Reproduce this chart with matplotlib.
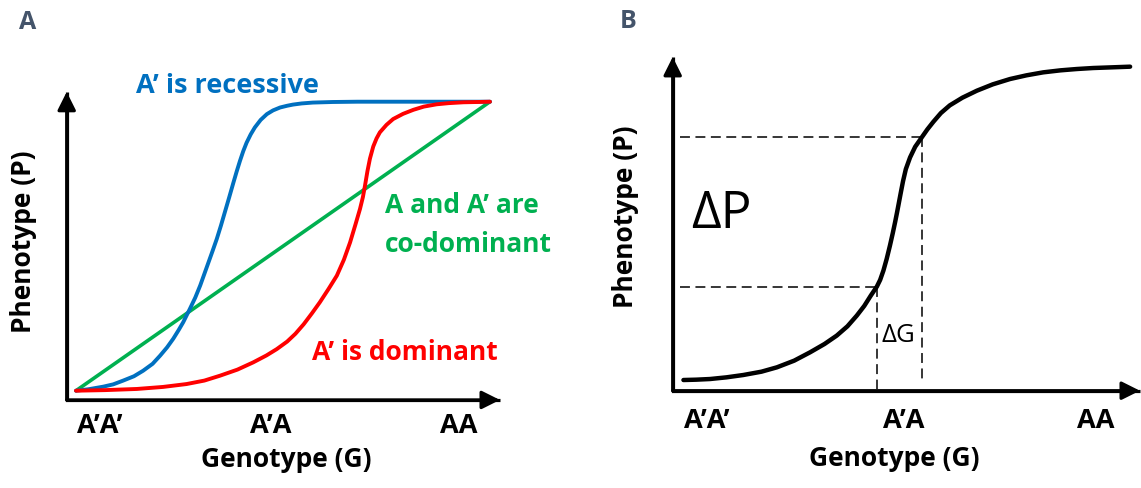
import matplotlib

matplotlib.use("Agg")
import matplotlib.pyplot as plt

plt.rcParams["font.family"] = ["Open Sans", "DejaVu Sans"]

# Genotype axis categories
genotype_labels = ["A’A’", "A’A", "AA"]

# Panel A: phenotype vs genotype for the three dominance cases (0 = A'A', 1 = AA)
recessive_g = [0.0, 0.03, 0.066, 0.09, 0.114, 0.14, 0.162, 0.185, 0.203, 0.22,
               0.235, 0.248, 0.259, 0.275, 0.288, 0.300, 0.310, 0.320, 0.330, 0.340,
               0.350, 0.360, 0.370, 0.380, 0.388, 0.396, 0.404, 0.412, 0.422, 0.432,
               0.446, 0.461, 0.476, 0.493, 0.510, 0.524, 0.545, 0.572, 0.620, 0.680,
               0.783, 1.0]
recessive_p = [0.0, 0.005, 0.014, 0.022, 0.035, 0.050, 0.069, 0.093, 0.121, 0.150,
               0.180, 0.210, 0.237, 0.283, 0.322, 0.364, 0.404, 0.444, 0.484, 0.525,
               0.571, 0.620, 0.669, 0.719, 0.758, 0.795, 0.829, 0.858, 0.887, 0.911,
               0.937, 0.957, 0.970, 0.980, 0.986, 0.990, 0.994, 0.997, 0.999, 1.0,
               1.0, 1.0]

dominant_g = [0.0, 0.07, 0.147, 0.21, 0.267, 0.31, 0.348, 0.39, 0.428, 0.46,
              0.485, 0.51, 0.530, 0.550, 0.570, 0.589, 0.610, 0.630, 0.647, 0.662,
              0.675, 0.686, 0.693, 0.698, 0.704, 0.710, 0.718, 0.726, 0.734, 0.750,
              0.766, 0.790, 0.815, 0.840, 0.871, 0.900, 0.936, 0.970, 1.0]
dominant_p = [0.0, 0.002, 0.006, 0.013, 0.023, 0.035, 0.052, 0.073, 0.098, 0.122,
              0.144, 0.170, 0.197, 0.230, 0.268, 0.306, 0.352, 0.398, 0.453, 0.513,
              0.575, 0.629, 0.670, 0.709, 0.760, 0.803, 0.845, 0.873, 0.894, 0.920,
              0.940, 0.958, 0.972, 0.983, 0.991, 0.995, 0.998, 0.999, 1.0]

codominant_g = [0.0, 1.0]
codominant_p = [0.0, 1.0]

# Panel B: a single genotype-phenotype map with a steep middle section
sigmoid_g = [0.023, 0.050, 0.080, 0.115, 0.151, 0.190, 0.223, 0.260, 0.294, 0.325,
             0.351, 0.374, 0.394, 0.410, 0.424, 0.437, 0.444, 0.451, 0.458, 0.465,
             0.471, 0.476, 0.480, 0.483, 0.488, 0.493, 0.499, 0.508, 0.519, 0.533,
             0.545, 0.558, 0.574, 0.593, 0.620, 0.651, 0.685, 0.722, 0.757, 0.793,
             0.830, 0.865, 0.900, 0.940, 0.979]
sigmoid_p = [0.032, 0.033, 0.035, 0.040, 0.047, 0.057, 0.070, 0.090, 0.115, 0.140,
             0.165, 0.193, 0.225, 0.254, 0.285, 0.312, 0.332, 0.360, 0.395, 0.435,
             0.472, 0.505, 0.533, 0.555, 0.592, 0.628, 0.664, 0.699, 0.731, 0.759,
             0.783, 0.806, 0.832, 0.855, 0.878, 0.899, 0.918, 0.934, 0.945, 0.954,
             0.960, 0.964, 0.967, 0.969, 0.971]

# two genotypes a small step apart and the phenotypes they give
delta_g = [0.437, 0.533]
delta_p = [0.312, 0.759]

BLUE = "#0070C0"
RED = "#FF0000"
GREEN = "#00B050"
PANEL_COLOR = "#44546A"


def draw_axes_arrows(ax, x0, y0, x_tip, y_tip, lw=2.3):
    # L-shaped frame with filled arrow heads on both ends
    ax.plot([x0, x0, x_tip], [y_tip, y0, y0], color="black", lw=lw,
            solid_joinstyle="miter", solid_capstyle="butt")
    head = dict(arrowstyle="-|>,head_length=1.1,head_width=0.55", color="black",
                lw=lw, shrinkA=0, shrinkB=0, mutation_scale=10)
    ax.annotate("", xy=(x0, y_tip), xytext=(x0, y0), arrowprops=head)
    ax.annotate("", xy=(x_tip, y0), xytext=(x0, y0), arrowprops=head)


fig = plt.figure(figsize=(11.41, 4.89), dpi=100)

# ---- Panel A ----
ax_a = fig.add_axes([0, 0, 560 / 1141, 1])
ax_a.set_xlim(-0.1836, 1.1691)
ax_a.set_ylim(-0.3367, 1.3554)
ax_a.axis("off")

draw_axes_arrows(ax_a, -0.0225, -0.032, 1.024, 1.034)
ax_a.plot(codominant_g, codominant_p, color=GREEN, lw=2.6, solid_capstyle="round")
ax_a.plot(recessive_g, recessive_p, color=BLUE, lw=2.8, solid_capstyle="round",
          solid_joinstyle="round")
ax_a.plot(dominant_g, dominant_p, color=RED, lw=2.8, solid_capstyle="round",
          solid_joinstyle="round")

ax_a.text(0.365, 1.058, "A’ is recessive", color=BLUE, fontsize=19.5,
          fontweight="bold", ha="center", va="center")
ax_a.text(0.746, 0.646, "A and A’ are", color=GREEN, fontsize=19,
          fontweight="bold", ha="left", va="center")
ax_a.text(0.746, 0.511, "co-dominant", color=GREEN, fontsize=19,
          fontweight="bold", ha="left", va="center")
ax_a.text(0.570, 0.134, "A’ is dominant", color=RED, fontsize=19,
          fontweight="bold", ha="left", va="center")

for x, label in zip([0.058, 0.470, 0.924], genotype_labels):
    ax_a.text(x, -0.120, label, fontsize=19.5, fontweight="bold",
              ha="center", va="center")
ax_a.text(0.508, -0.236, "Genotype (G)", fontsize=19, fontweight="bold",
          ha="center", va="center")
ax_a.text(-0.126, 0.520, "Phenotype (P)", fontsize=19, fontweight="bold",
          ha="center", va="center", rotation=90)
ax_a.text(-0.118, 1.279, "A", color=PANEL_COLOR, fontsize=18,
          fontweight="bold", ha="center", va="center")

# ---- Panel B ----
ax_b = fig.add_axes([560 / 1141, 0, 581 / 1141, 1])
ax_b.set_xlim(-0.2412, 1.0023)
ax_b.set_ylim(-0.2916, 1.1738)
ax_b.axis("off")

draw_axes_arrows(ax_b, 0.0, 0.0, 1.0, 1.0)

dash = dict(color="black", lw=1.1, linestyle=(0, (6.5, 3.6)))
for g, p in zip(delta_g, delta_p):
    ax_b.plot([0.016, g], [p, p], **dash)
ax_b.plot([delta_g[0], delta_g[0]], [delta_p[0], 0.005], **dash)
ax_b.plot([delta_g[1], delta_g[1]], [delta_p[1], 0.026], **dash)

ax_b.plot(sigmoid_g, sigmoid_p, color="black", lw=3.2, solid_capstyle="round",
          solid_joinstyle="round")

ax_b.text(0.105, 0.530, "ΔP", fontsize=37, ha="center", va="center")
ax_b.text(0.482, 0.167, "ΔG", fontsize=18.5, ha="center", va="center")

for x, label in zip([0.073, 0.495, 0.906], genotype_labels):
    ax_b.text(x, -0.089, label, fontsize=19.5, fontweight="bold",
              ha="center", va="center")
ax_b.text(0.475, -0.199, "Genotype (G)", fontsize=19, fontweight="bold",
          ha="center", va="center")
ax_b.text(-0.100, 0.525, "Phenotype (P)", fontsize=19, fontweight="bold",
          ha="center", va="center", rotation=90)
ax_b.text(-0.096, 1.108, "B", color=PANEL_COLOR, fontsize=18,
          fontweight="bold", ha="center", va="center")

fig.savefig("out.png", dpi=100)
